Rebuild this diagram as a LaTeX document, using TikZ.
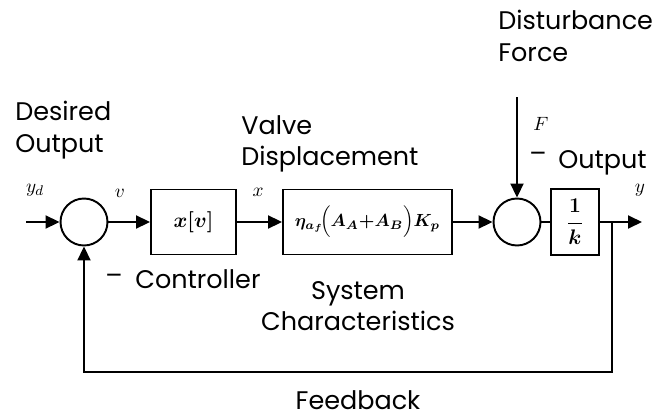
\documentclass[tikz,border=0pt]{standalone}
\usepackage{amsmath}
\usepackage{fontspec}
\setmainfont{Poppins}
\usetikzlibrary{arrows.meta}

\tikzset{
  block/.style={draw, line width=1.1pt, minimum height=1.3cm, inner sep=0pt},
  sumpt/.style={draw, circle, line width=1.1pt, minimum size=0.94cm, inner sep=0pt},
  sig/.style={line width=1.1pt, -{Triangle[length=0.28cm,width=0.26cm]}},
  lbl/.style={font=\fontsize{14.5}{18}\selectfont, align=left, inner sep=0pt},
  var/.style={font=\fontsize{11}{13}\selectfont, inner sep=0pt}
}

\begin{document}
\begin{tikzpicture}[x=0.02cm, y=-0.02cm]
\useasboundingbox (0,0) rectangle (660,416);

% forward path
\node[sumpt] (sum1) at (84,222) {};
\node[block, minimum width=1.7cm, font=\large] (ctrl) at (193.5,222) {{\boldmath $x[v]$}};
\node[block, minimum width=3.38cm, font=\normalsize] (sys) at (367.5,222) {{\boldmath $\eta_{a_f}\!\Bigl(A_A{+}A_B\Bigr)K_p$}};
\node[sumpt] (sum2) at (517,222) {};
\node[block, minimum width=0.96cm, minimum height=1.32cm, font=\large] (gain) at (575,222) {{\boldmath $\dfrac{1}{k}$}};

\coordinate (in) at (26,222);
\coordinate (out) at (642,222);
\coordinate (dist) at (517,97);
\coordinate (tap) at (612,222);
\coordinate (fbr) at (612,372);
\coordinate (fbl) at (84,372);

\draw[sig] (in) -- (sum1);
\draw[sig] (sum1) -- (ctrl);
\draw[sig] (ctrl) -- (sys);
\draw[sig] (sys) -- (sum2);
\draw[sig] (dist) -- (sum2);
\draw[line width=1.1pt] (sum2) -- (gain);
\draw[sig] (gain) -- (out);
% feedback loop
\draw[sig] (tap) -- (fbr) -- (fbl) -- (sum1);

% signals
\node[var] (yd) at (35,190) {$y_d$};
\node[var] (v) at (120,193) {$v$};
\node[var] (x) at (258,192) {$x$};
\node[var] (y) at (640,190) {$y$};
\node[var] (F) at (541,124) {$F$};

% captions
\node[lbl, anchor=north west] (desired) at (15,101) {Desired\\Output};
\node[lbl, anchor=north west] (valve) at (241,115) {Valve\\Displacement};
\node[lbl, anchor=north west] (disturb) at (498,10) {Disturbance\\Force};
\node[lbl] (minusF) at (538,157) {\textendash};
\node[lbl, anchor=base west] (output) at (558,168) {Output};
\node[lbl] (minusC) at (114,279) {\textendash};
\node[lbl, anchor=base west] (ctrltext) at (135,288) {Controller};
\node[lbl, align=center] (systext) at (358,306) {System\\Characteristics};
\node[lbl] (feedback) at (358,400) {Feedback};
\end{tikzpicture}
\end{document}
